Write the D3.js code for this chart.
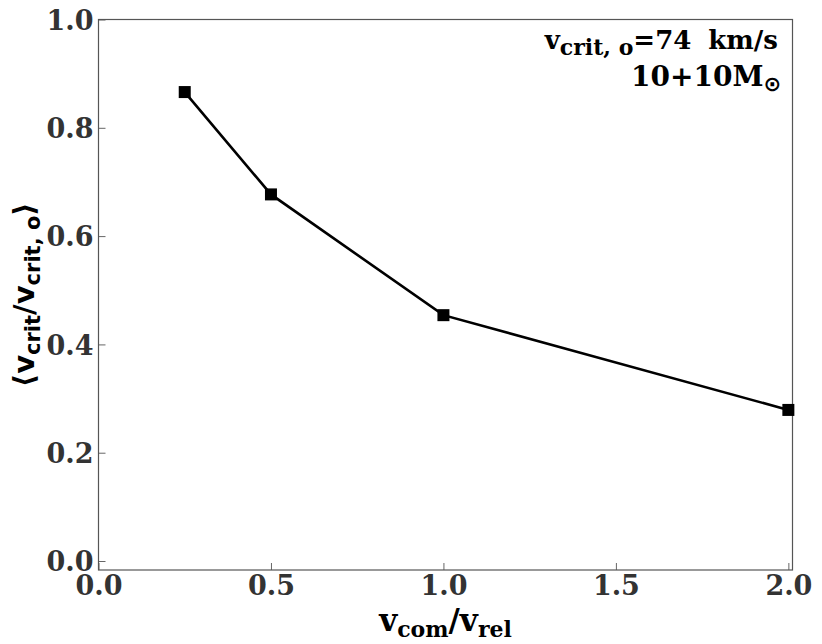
<!DOCTYPE html>
<html>
<head>
<meta charset="utf-8">
<script src="https://cdn.jsdelivr.net/npm/d3@7"></script>
<style>
	body { margin: 0; background: #fff; }
	svg { display: block; }
</style>
</head>
<body>
<div id="chart"></div>
<script>
"use strict";

//  Data
const velocityRatio = [0.25, 0.5, 1.0, 2.0];
const meanCritRatio = [0.866, 0.677, 0.454, 0.279];
const xTicks = [0.0, 0.5, 1.0, 1.5, 2.0];
const yTicks = [0.0, 0.2, 0.4, 0.6, 0.8, 1.0];

const width = 822, height = 644;
const margin = { top: 19.5, right: 29.5, bottom: 74, left: 98.5 };
const serif = "'DejaVu Serif', serif";
const sans = "'DejaVu Sans', sans-serif";

let svg = d3.select('#chart').append('svg')
	.attr('width', width)
	.attr('height', height);

let x = d3.scaleLinear()
	.domain([0, 2.012])
	.range([margin.left, width - margin.right]);

let y = d3.scaleLinear()
	.domain([-0.0166, 1.0])
	.range([height - margin.bottom, margin.top]);

//  Axes (ticks inward)
let xAxis = svg.append('g')
	.attr('transform', `translate(0, ${height - margin.bottom})`)
	.call(d3.axisBottom(x).tickValues(xTicks).tickFormat(d3.format('.1f')).tickSizeInner(-7).tickSizeOuter(0).tickPadding(4));

let yAxis = svg.append('g')
	.attr('transform', `translate(${margin.left}, 0)`)
	.call(d3.axisLeft(y).tickValues(yTicks).tickFormat(d3.format('.1f')).tickSizeInner(-7).tickSizeOuter(0).tickPadding(5));

[xAxis, yAxis].forEach(axis => {
	axis.select('.domain').remove();
	axis.selectAll('.tick line').attr('stroke', '#666').attr('stroke-width', 1);
	axis.selectAll('.tick text')
		.attr('fill', '#333')
		.style('font-family', serif)
		.style('font-weight', 'bold')
		.style('font-size', '27px');
});
xAxis.selectAll('.tick text').attr('dy', '0.76em');
yAxis.selectAll('.tick text').attr('dy', '0.36em');

//  Frame
svg.append('rect')
	.attr('x', margin.left)
	.attr('y', margin.top)
	.attr('width', width - margin.left - margin.right)
	.attr('height', height - margin.top - margin.bottom)
	.attr('fill', 'none')
	.attr('stroke', '#555')
	.attr('stroke-width', 1.2);

//  Series
let points = velocityRatio.map((v, i) => ({ x: v, y: meanCritRatio[i] }));

svg.append('path')
	.datum(points)
	.attr('fill', 'none')
	.attr('stroke', '#000')
	.attr('stroke-width', 2.6)
	.attr('d', d3.line().x(p => x(p.x)).y(p => y(p.y)));

const markerSize = 12;
svg.selectAll('.marker')
	.data(points)
	.join('rect')
	.classed('marker', true)
	.attr('x', p => x(p.x) - markerSize / 2)
	.attr('y', p => y(p.y) - markerSize / 2)
	.attr('width', markerSize)
	.attr('height', markerSize)
	.attr('fill', '#000');

//  Axis labels
let xLabel = svg.append('text')
	.attr('x', (margin.left + width - margin.right) / 2)
	.attr('y', 631)
	.attr('text-anchor', 'middle')
	.style('font-family', serif)
	.style('font-weight', 'bold')
	.style('font-size', '31px')
	.attr('fill', '#000');
xLabel.append('tspan').text('v');
xLabel.append('tspan').text('com').attr('dy', 6).style('font-size', '22px');
xLabel.append('tspan').text('/v').attr('dy', -6);
xLabel.append('tspan').text('rel').attr('dy', 6).style('font-size', '22px');

let yLabel = svg.append('text')
	.attr('transform', `translate(34, ${(margin.top + height - margin.bottom) / 2}) rotate(-90)`)
	.attr('text-anchor', 'middle')
	.style('font-family', sans)
	.style('font-weight', 'bold')
	.style('font-size', '29px')
	.attr('fill', '#000');
yLabel.append('tspan').text('\u27E8v');
yLabel.append('tspan').text('crit').attr('dy', 6).style('font-size', '21px');
yLabel.append('tspan').text('/v').attr('dy', -6);
yLabel.append('tspan').text('crit, o').attr('dy', 6).style('font-size', '21px');
yLabel.append('tspan').text('\u27E9').attr('dy', -6);

//  Annotation
let note = svg.append('text')
	.attr('x', 778)
	.attr('y', 49)
	.attr('text-anchor', 'end')
	.style('font-family', serif)
	.style('font-weight', 'bold')
	.style('font-size', '26px')
	.attr('fill', '#000');
note.append('tspan').text('v');
note.append('tspan').text('crit, o').attr('dy', 6).style('font-size', '22px');
note.append('tspan').text('=74').attr('dy', -6);
note.append('tspan').text('km/s').attr('dx', 17);

let mass = svg.append('text')
	.attr('x', 781)
	.attr('y', 86)
	.attr('text-anchor', 'end')
	.style('font-family', serif)
	.style('font-weight', 'bold')
	.style('font-size', '28px')
	.attr('fill', '#000');
mass.append('tspan').text('10+10M');
mass.append('tspan').text('\u2299').attr('dy', 5).style('font-size', '21px').style('font-family', sans);
</script>
</body>
</html>
